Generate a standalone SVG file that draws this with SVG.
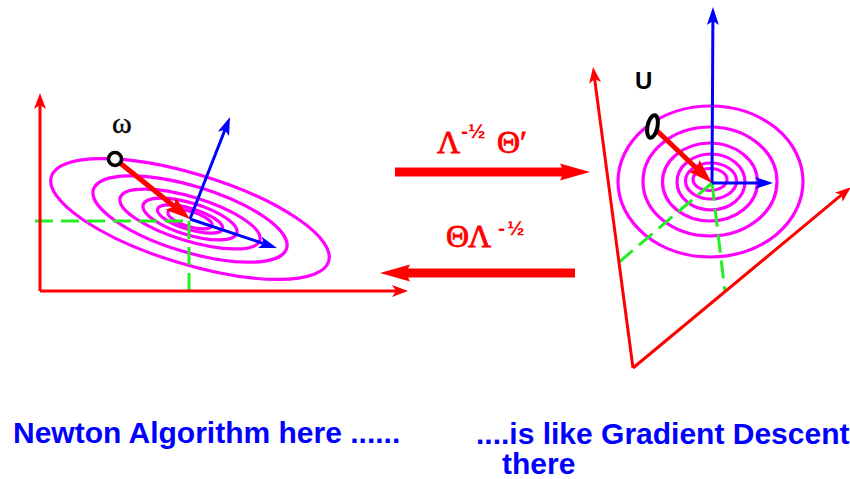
<svg xmlns="http://www.w3.org/2000/svg" width="850" height="479" viewBox="0 0 850 479">
<style>
.ell{fill:none;stroke:#ff00ff;stroke-width:3.2}
.axis{fill:none;stroke:#ff0000;stroke-width:3}
.dash{fill:none;stroke:#22ee22;stroke-width:3;stroke-dasharray:18 8}
.blue{fill:none;stroke:#0000ff;stroke-width:3}
.redarr{fill:none;stroke:#ff0000;stroke-width:5}
.big{fill:none;stroke:#ff0000;stroke-width:9}
.serif{font-family:"Liberation Serif","DejaVu Serif",serif;font-size:32px;fill:#ff0000;stroke:#ff0000;stroke-width:0.8}
.sup{font-family:"Liberation Sans",Arial,sans-serif;font-weight:bold;font-size:21px;stroke:none}
.cap{font-family:"Liberation Sans",Arial,sans-serif;font-weight:bold;font-size:30px;fill:#0000ff}
</style>
<defs>
<marker id="mRed" viewBox="-17 -7 18 14" refX="-12" refY="0" markerWidth="18" markerHeight="14" markerUnits="userSpaceOnUse" orient="auto">
<path d="M0,0 L-16,-6 L-12,0 L-16,6 Z" fill="#ff0000"/>
</marker>
<marker id="mBlue" viewBox="-19 -7 20 14" refX="-14" refY="0" markerWidth="20" markerHeight="14" markerUnits="userSpaceOnUse" orient="auto">
<path d="M0,0 L-18,-6 L-14,0 L-18,6 Z" fill="#0000ff"/>
</marker>
<marker id="mRedBig" viewBox="-26 -9 27 18" refX="-20" refY="0" markerWidth="27" markerHeight="18" markerUnits="userSpaceOnUse" orient="auto">
<path d="M0,0 L-25,-8 L-20,0 L-25,8 Z" fill="#ff0000"/>
</marker>
<marker id="mHuge" viewBox="-31 -9 32 18" refX="-26" refY="0" markerWidth="32" markerHeight="18" markerUnits="userSpaceOnUse" orient="auto">
<path d="M0,0 L-30,-8.5 L-26,0 L-30,8.5 Z" fill="#ff0000"/>
</marker>
</defs>

<g id="left-plot">
<g transform="translate(190,219) rotate(17)">
<ellipse class="ell" rx="145" ry="45"/>
<ellipse class="ell" rx="101" ry="33"/>
<ellipse class="ell" rx="73" ry="22"/>
<ellipse class="ell" rx="49" ry="16"/>
<ellipse class="ell" rx="34" ry="10.5"/>
<ellipse class="ell" rx="23" ry="7.5"/>
</g>
<path class="dash" d="M35,221 H190"/>
<path class="dash" d="M189,221 V291"/>
<path class="axis" d="M40,291 V105" marker-end="url(#mRed)"/>
<path class="axis" d="M40,291 H396" marker-end="url(#mRed)"/>
<path class="blue" d="M190,219 L224.9,130" marker-end="url(#mBlue)"/>
<path class="blue" d="M190,219 L263.7,243.6" marker-end="url(#mBlue)"/>
<path class="redarr" d="M115,159 L174.4,206.5" marker-end="url(#mRedBig)"/>
<circle cx="115" cy="159" r="6.5" fill="#ffffff" stroke="#000000" stroke-width="3.5"/>
<text x="112" y="133" font-family="Liberation Serif, DejaVu Serif, serif" font-size="30" fill="#000000" stroke="#000000" stroke-width="0.4">ω</text>
</g>

<g id="right-plot">
<ellipse class="ell" cx="710.5" cy="181.5" rx="92.5" ry="75.5"/>
<ellipse class="ell" cx="710" cy="181.5" rx="67" ry="54.5"/>
<ellipse class="ell" cx="710" cy="182" rx="47.5" ry="39"/>
<ellipse class="ell" cx="711" cy="182" rx="34" ry="28"/>
<ellipse class="ell" cx="711" cy="181" rx="25.5" ry="18"/>
<ellipse class="ell" cx="710" cy="179.5" rx="17" ry="11"/>
<path class="dash" d="M712,183 L618,263"/>
<path class="dash" d="M712,183 L725,292"/>
<path class="axis" d="M633,368 L594.6,78.9" marker-end="url(#mRed)"/>
<path class="axis" d="M633,368 L841.8,194.7" marker-end="url(#mRed)"/>
<path class="blue" d="M712,183 L712.9,21" marker-end="url(#mBlue)"/>
<path class="blue" d="M712,183 L759,183" marker-end="url(#mBlue)"/>
<path class="redarr" d="M653,127 L697.5,169.2" marker-end="url(#mRedBig)"/>
<ellipse cx="652.5" cy="126.5" rx="5" ry="11.5" transform="rotate(12 652.5 126.5)" fill="#ffffff" stroke="#000000" stroke-width="4"/>
<text x="635" y="89" font-family="Liberation Sans, Arial, sans-serif" font-weight="bold" font-size="24" fill="#000000">U</text>
</g>

<g id="connectors">
<path class="big" d="M395,172 H564" marker-end="url(#mHuge)"/>
<path class="big" d="M575,273 H406" marker-end="url(#mHuge)"/>
</g>

<g id="label-forward">
<text class="serif" y="153"><tspan x="437">Λ</tspan><tspan class="sup" x="461" y="138">-</tspan><tspan class="sup" x="468" y="138">½</tspan><tspan x="497" y="153">Θ′</tspan></text>
</g>
<g id="label-backward">
<text class="serif" y="247"><tspan x="446">Θ</tspan><tspan x="468">Λ</tspan><tspan class="sup" x="498" y="235">-</tspan><tspan class="sup" x="507" y="235">½</tspan></text>
</g>

<g id="captions">
<text class="cap" x="13" y="443">Newton Algorithm here ......</text>
<text class="cap" x="476" y="444">....is like Gradient Descent</text>
<text class="cap" x="502" y="474">there</text>
</g>
</svg>
